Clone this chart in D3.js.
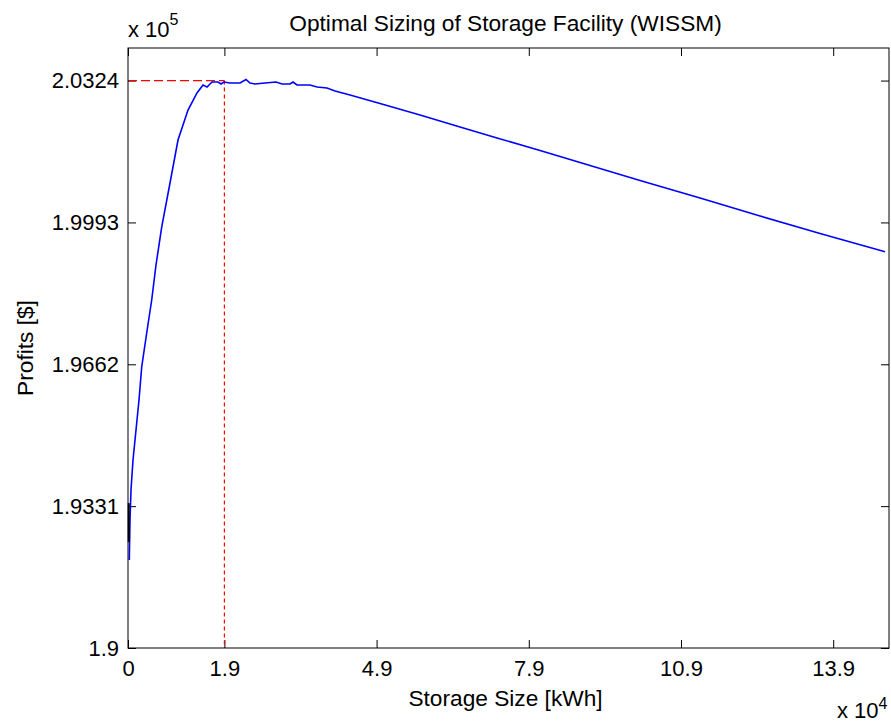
<!DOCTYPE html>
<html>
<head>
<meta charset="utf-8">
<script src="https://cdn.jsdelivr.net/npm/d3@7"></script>
<style>
  body { margin: 0; background: #fff; }
  text { font-family: "Liberation Sans", Arial, sans-serif; fill: #000; }
</style>
</head>
<body>
<svg width="891" height="722"></svg>
<script>
// storage size [kWh] and profits [$]
const storageSize = [256, 394, 591, 986, 1577, 2168, 2700, 3686, 4672, 5520, 6643, 8279,
  9856, 11827, 13601, 14784, 15573, 16558, 17741, 18332, 18923, 20106, 22078, 23260,
  24049, 25035, 27006, 29174, 30357, 31934, 32525, 33314, 35876, 37256, 39227, 40804,
  43761, 49675, 57560, 65445, 72738, 81214, 89100, 100926, 112754, 124581, 136408, 149221];
const profits = [192053, 192987, 193687, 194387, 195087, 195787, 196557, 197350, 198120,
  198937, 199823, 200850, 201853, 202553, 202950, 203137, 203090, 203207, 203207, 203160,
  203207, 203183, 203183, 203265, 203183, 203160, 203183, 203207, 203160, 203160, 203207,
  203137, 203137, 203090, 203067, 202997, 202903, 202705, 202437, 202157, 201900, 201608,
  201328, 200908, 200500, 200080, 199672, 199247];

// short black segment sitting on the left axis
const blackX = [150, 150];
const blackY = [193380, 192470];

// optimum marker
const optSize = 19000;
const optProfit = 203240;

const xTicks = [0, 19000, 49000, 79000, 109000, 139000];
const xTickLabels = ["0", "1.9", "4.9", "7.9", "10.9", "13.9"];
const yTicks = [190000, 193310, 196620, 199930, 203240];
const yTickLabels = ["1.9", "1.9331", "1.9662", "1.9993", "2.0324"];

const svg = d3.select("svg");
const width = +svg.attr("width");
const height = +svg.attr("height");
const margin = { top: 48, right: 2, bottom: 74, left: 128 };
const w = width - margin.left - margin.right;
const h = height - margin.top - margin.bottom;
const fs = 22;
const labelFs = 22.7;

const x = d3.scaleLinear().domain([0, 150000]).range([0, w]);
const y = d3.scaleLinear().domain([190000, 204000]).range([h, 0]);

const g = svg.append("g").attr("transform", `translate(${margin.left},${margin.top})`);

// axes with inward ticks
const xAxis = d3.axisBottom(x).tickValues(xTicks)
  .tickFormat((d, i) => xTickLabels[i]).tickSizeInner(-8).tickSizeOuter(0).tickPadding(12);
const yAxis = d3.axisLeft(y).tickValues(yTicks)
  .tickFormat((d, i) => yTickLabels[i]).tickSizeInner(-8).tickSizeOuter(0).tickPadding(9);

g.append("g").attr("transform", `translate(0,${h})`).call(xAxis);
g.append("g").call(yAxis);
g.append("g").call(d3.axisTop(x).tickValues(xTicks).tickFormat("").tickSizeInner(-8).tickSizeOuter(0));
g.append("g").attr("transform", `translate(${w},0)`)
  .call(d3.axisRight(y).tickValues(yTicks).tickFormat("").tickSizeInner(-8).tickSizeOuter(0));

g.selectAll(".domain").remove();
g.selectAll(".tick line").attr("stroke", "#000");
g.selectAll(".tick text").style("font-size", fs + "px").attr("fill", "#000");

// optimum dashed guides
g.append("line")
  .attr("x1", x(0)).attr("x2", x(optSize))
  .attr("y1", y(optProfit)).attr("y2", y(optProfit))
  .attr("stroke", "#ff0000").attr("stroke-width", 1.2).attr("stroke-dasharray", "9,4");
g.append("line")
  .attr("x1", x(optSize)).attr("x2", x(optSize))
  .attr("y1", y(optProfit)).attr("y2", y(190000))
  .attr("stroke", "#ff0000").attr("stroke-width", 1.2).attr("stroke-dasharray", "4,3");

const line = d3.line().x(d => x(d[0])).y(d => y(d[1]));

g.append("path")
  .datum(d3.zip(storageSize, profits))
  .attr("d", line)
  .attr("fill", "none")
  .attr("stroke", "#0000ff")
  .attr("stroke-width", 1.6);

g.append("path")
  .datum(d3.zip(blackX, blackY))
  .attr("d", line)
  .attr("fill", "none")
  .attr("stroke", "#000")
  .attr("stroke-width", 2);

// frame
g.append("rect")
  .attr("width", w).attr("height", h)
  .attr("fill", "none").attr("stroke", "#000").attr("stroke-width", 1);

// title and labels
svg.append("text")
  .attr("x", margin.left + w / 2 - 3).attr("y", 31)
  .attr("text-anchor", "middle").style("font-size", labelFs + "px")
  .text("Optimal Sizing of Storage Facility (WISSM)");

svg.append("text")
  .attr("x", margin.left + w / 2 - 3).attr("y", 706)
  .attr("text-anchor", "middle").style("font-size", labelFs + "px")
  .text("Storage Size [kWh]");

svg.append("text")
  .attr("transform", `translate(33,${margin.top + h / 2}) rotate(-90)`)
  .attr("text-anchor", "middle").style("font-size", labelFs + "px")
  .text("Profits [$]");

// exponent labels
const e5 = svg.append("text").attr("x", 128).attr("y", 37).style("font-size", fs + "px");
e5.append("tspan").text("x 10");
e5.append("tspan").attr("dy", -12).style("font-size", "16px").text("5");

const e4 = svg.append("text").attr("x", 837).attr("y", 718).style("font-size", fs + "px");
e4.append("tspan").text("x 10");
e4.append("tspan").attr("dy", -9).style("font-size", "16px").text("4");
</script>
</body>
</html>
